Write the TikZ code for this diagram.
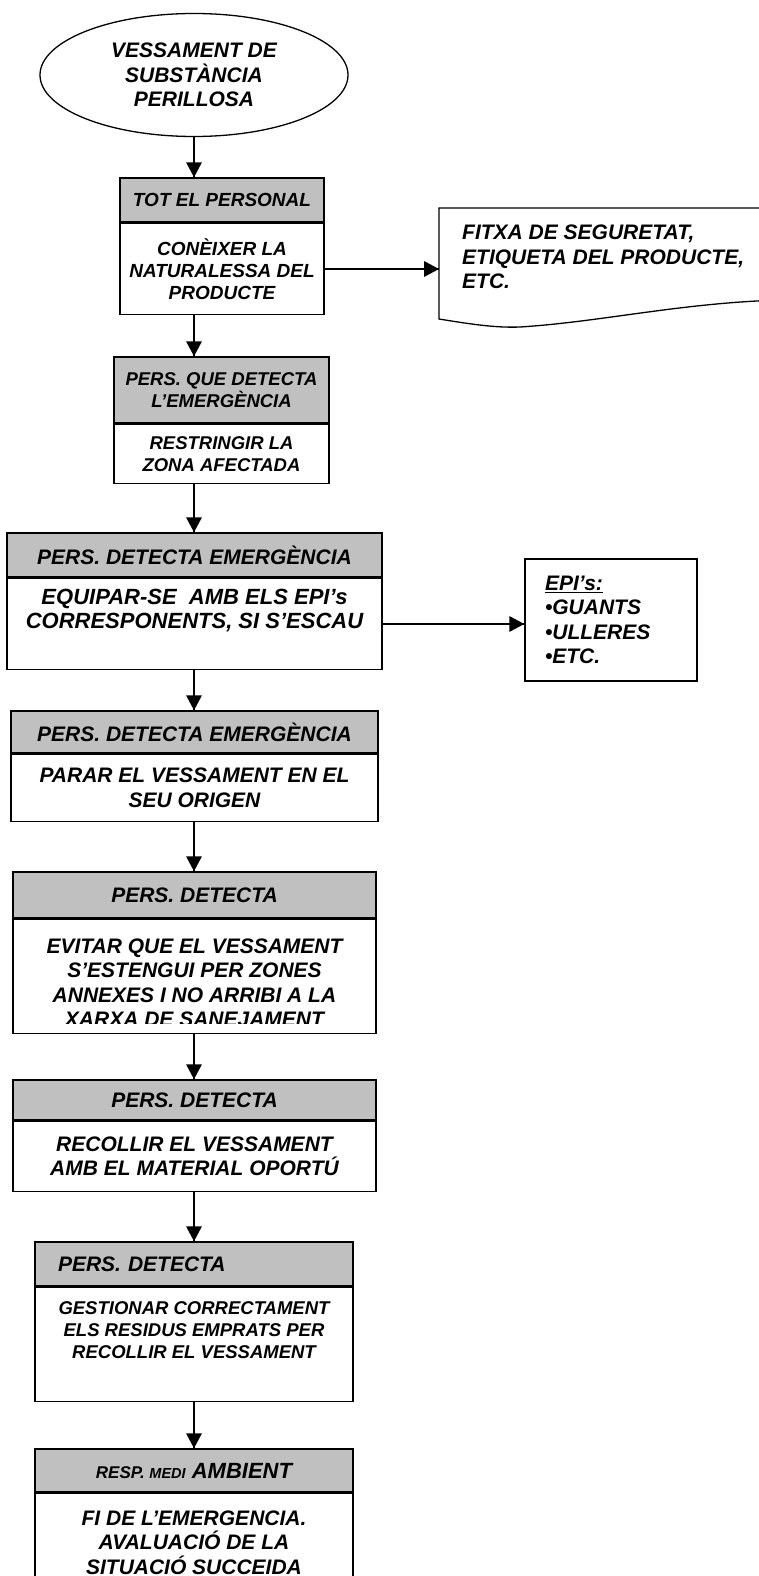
\documentclass[tikz,border=0pt]{standalone}
\usepackage{fontspec}
\setmainfont{Liberation Sans}
\usetikzlibrary{shapes.geometric,positioning}
\definecolor{hdrgray}{RGB}{192,192,192}

\begin{document}
\begin{tikzpicture}[x=1pt,y=-1pt]
\tikzstyle{every node}+=[inner sep=0pt,align=center,font=\fontsize{21}{24.5}\selectfont\bfseries\itshape]
\tikzstyle{hdr}=[draw=black,line width=1.5pt,fill=hdrgray,rectangle]
\tikzstyle{body}=[draw=black,line width=1.5pt,fill=white,rectangle]
\tikzstyle{small}=[font=\fontsize{19}{22}\selectfont\bfseries\itshape]
\tikzstyle{mid}=[font=\fontsize{18.5}{22.5}\selectfont\bfseries\itshape]
\tikzstyle{link}=[black,line width=2pt]
\useasboundingbox (0,0) rectangle (759,1576);
\node [draw=black,line width=1.3pt,ellipse,minimum width=308pt,minimum height=123pt] (start) at (194,75) {VESSAMENT DE\\SUBSTÀNCIA\\PERILLOSA};
\node [hdr,small,minimum width=204pt,minimum height=44pt] (h1) at (222,200) {TOT EL PERSONAL};
\node [body,small,minimum width=204pt,minimum height=91pt,below=0pt of h1] (b1) {CONÈIXER LA\\NATURALESSA DEL\\PRODUCTE};
\draw [line width=1.3pt] (780,208) -- (439,208) -- (439,319) .. controls (470,324) and (495,328) .. (520,327) .. controls (600,322) and (680,303) .. (780,300);
\coordinate (fitxain) at (439,268);
\node [anchor=north west,align=left] (fitxa) at (462,225) {FITXA DE SEGURETAT,\\ETIQUETA DEL PRODUCTE,\\ETC.};
\node [hdr,mid,minimum width=215pt,minimum height=66pt] (h2) at (221.5,390) {PERS. QUE DETECTA\\L’EMERGÈNCIA};
\node [body,mid,minimum width=215pt,minimum height=59pt,below=0pt of h2] (b2) {RESTRINGIR LA\\ZONA AFECTADA};
\node [hdr,minimum width=375pt,minimum height=44pt] (h3) at (194.5,555) {PERS. DETECTA EMERGÈNCIA};
\node [body,minimum width=375pt,minimum height=91pt,below=0pt of h3,font=\fontsize{22}{24}\selectfont\bfseries\itshape] (b3) {EQUIPAR-SE~ AMB ELS EPI’s\\CORRESPONENTS, SI S’ESCAU\\\strut};
\node [body,minimum width=172pt,minimum height=122pt,inner xsep=20pt,text width=132pt,align=left] (epi) at (611,620) {\underline{EPI’s:}\\•GUANTS\\•ULLERES\\•ETC.};
\node [hdr,minimum width=367pt,minimum height=42pt] (h4) at (194.5,732) {PERS. DETECTA EMERGÈNCIA};
\node [body,minimum width=367pt,minimum height=67pt,below=0pt of h4] (b4) {PARAR EL VESSAMENT EN EL\\SEU ORIGEN};
\node [hdr,minimum width=363pt,minimum height=46pt] (h5) at (194.5,895) {PERS. DETECTA};
\node [body,minimum width=363pt,minimum height=114pt,below=0pt of h5] (b5) {};
\begin{scope}
\clip (13,918) rectangle (376,1023);
\node (t5) at (194.5,983) {EVITAR QUE EL VESSAMENT\\S’ESTENGUI PER ZONES\\ANNEXES I NO ARRIBI A LA\\XARXA DE SANEJAMENT};
\end{scope}
\node [hdr,minimum width=363pt,minimum height=40pt] (h6) at (194.5,1100) {PERS. DETECTA};
\node [body,minimum width=363pt,minimum height=70pt,below=0pt of h6] (b6) {RECOLLIR EL VESSAMENT\\AMB EL MATERIAL OPORTÚ};
\node [hdr,minimum width=318pt,minimum height=44pt,inner xsep=23pt,text width=272pt,align=left] (h7) at (194,1264) {PERS. DETECTA};
\node [body,minimum width=318pt,minimum height=114pt,below=0pt of h7,font=\fontsize{18.5}{22}\selectfont\bfseries\itshape] (b7) {GESTIONAR CORRECTAMENT\\ELS RESIDUS EMPRATS PER\\RECOLLIR EL VESSAMENT\\\strut};
\node [hdr,minimum width=318pt,minimum height=43pt,font=\fontsize{22}{24}\selectfont\bfseries\itshape] (h8) at (194,1470.5) {{\fontsize{17}{20}\selectfont RESP. }{\fontsize{14.5}{20}\selectfont MEDI} AMBIENT};
\node [body,minimum width=318pt,minimum height=98pt,below=0pt of h8] (b8) {FI DE L’EMERGENCIA.\\AVALUACIÓ DE LA\\SITUACIÓ SUCCEIDA};
\draw [link] (start.south) -- (start.south |- h1.north);
\fill [black] (start.south |- h1.north) -- ++(-8,-15) -- ++(16,0);
\draw [link] (start.south |- b1.south) -- (start.south |- h2.north);
\fill [black] (start.south |- h2.north) -- ++(-8,-15) -- ++(16,0);
\draw [link] (start.south |- b2.south) -- (start.south |- h3.north);
\fill [black] (start.south |- h3.north) -- ++(-8,-15) -- ++(16,0);
\draw [link] (start.south |- b3.south) -- (start.south |- h4.north);
\fill [black] (start.south |- h4.north) -- ++(-8,-15) -- ++(16,0);
\draw [link] (start.south |- b4.south) -- (start.south |- h5.north);
\fill [black] (start.south |- h5.north) -- ++(-8,-15) -- ++(16,0);
\draw [link] (start.south |- b5.south) -- (start.south |- h6.north);
\fill [black] (start.south |- h6.north) -- ++(-8,-15) -- ++(16,0);
\draw [link] (start.south |- b6.south) -- (start.south |- h7.north);
\fill [black] (start.south |- h7.north) -- ++(-8,-15) -- ++(16,0);
\draw [link] (start.south |- b7.south) -- (start.south |- h8.north);
\fill [black] (start.south |- h8.north) -- ++(-8,-15) -- ++(16,0);
\draw [link] (b1.east) -- (b1.east -| fitxain);
\fill [black] (b1.east -| fitxain) -- ++(-15,-8) -- ++(0,16);
\draw [link] (b3.east) -- (b3.east -| epi.west);
\fill [black] (b3.east -| epi.west) -- ++(-15,-8) -- ++(0,16);
\end{tikzpicture}
\end{document}
